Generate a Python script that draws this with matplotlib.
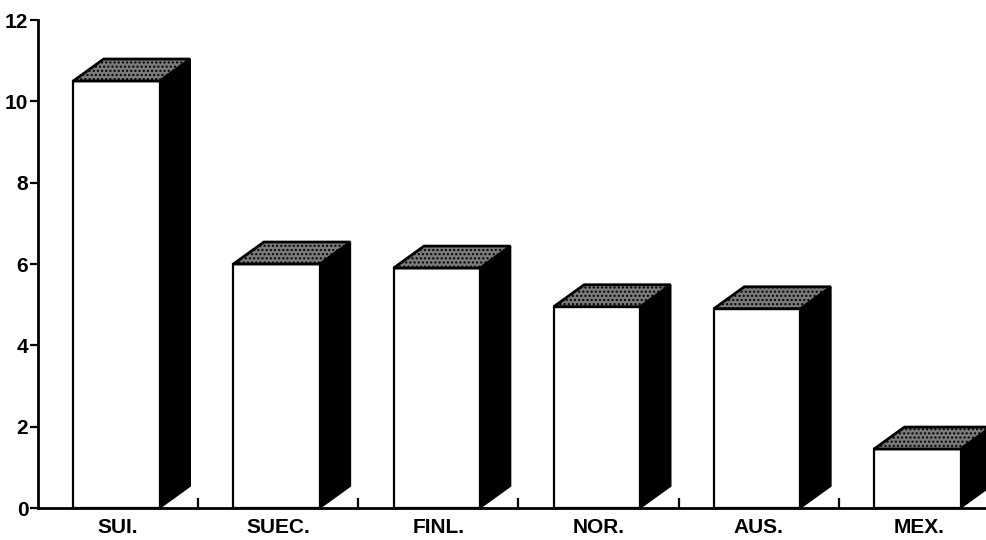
import matplotlib
matplotlib.use('Agg')
from matplotlib import pyplot as plt
from matplotlib.patches import Polygon
from matplotlib.ticker import FixedLocator, NullFormatter

paises = ['SUI.', 'SUEC.', 'FINL.', 'NOR.', 'AUS.', 'MEX.']
valores = [10.5, 6.0, 5.9, 4.95, 4.9, 1.45]

plt.rcParams['font.family'] = ['Liberation Sans', 'DejaVu Sans']
plt.rcParams['font.weight'] = 'bold'
plt.rcParams['hatch.color'] = '#3a3a3a'

fig = plt.figure(figsize=(9.87, 5.40), dpi=100)
ax = fig.add_axes([38/987, 32/540, 961/987, 488/540])

ancho = 0.54      # ancho de la cara frontal
desp = -0.01      # desplazamiento respecto al centro de la categoria
dx, dy = 0.19, 0.54   # profundidad de la perspectiva (x en categorias, y en unidades)

x = list(range(len(paises)))
# cara frontal blanca
ax.bar([i + desp for i in x], valores, width=ancho, color='white',
       edgecolor='black', linewidth=1.6, zorder=3)

for i, v in zip(x, valores):
    izq = i + desp - ancho / 2
    der = i + desp + ancho / 2
    # lateral negro
    lado = Polygon([(der, 0), (der + dx, dy), (der + dx, v + dy), (der, v)],
                   closed=True, facecolor='black', edgecolor='black',
                   linewidth=1.2, zorder=2)
    # tapa gris punteada
    tapa = Polygon([(izq, v), (der, v), (der + dx, v + dy), (izq + dx, v + dy)],
                   closed=True, facecolor='#7a7a7a', edgecolor='black',
                   linewidth=2, hatch='....', zorder=4)
    ax.add_patch(lado)
    ax.add_patch(tapa)

ax.set_xlim(-0.5, 5.5)
ax.set_ylim(0, 12)
ax.set_yticks(range(0, 13, 2))

ax.spines['top'].set_visible(False)
ax.spines['right'].set_visible(False)
ax.spines['left'].set_linewidth(2)
ax.spines['bottom'].set_linewidth(2)
ax.spines['left'].set_zorder(5)
ax.spines['bottom'].set_zorder(5)

# marcas entre categorias hacia dentro, etiquetas centradas
ax.xaxis.set_major_locator(FixedLocator([0.5, 1.5, 2.5, 3.5, 4.5, 5.5]))
ax.xaxis.set_major_formatter(NullFormatter())
ax.xaxis.set_minor_locator(FixedLocator(x))
ax.set_xticklabels(paises, minor=True)
ax.tick_params(axis='x', which='major', direction='in', length=7, width=1.6)
ax.tick_params(axis='x', which='minor', length=0, pad=7, labelsize=15)
ax.tick_params(axis='y', direction='out', length=6, width=1.6, pad=1, labelsize=15)

plt.savefig('out.png', dpi=100)
